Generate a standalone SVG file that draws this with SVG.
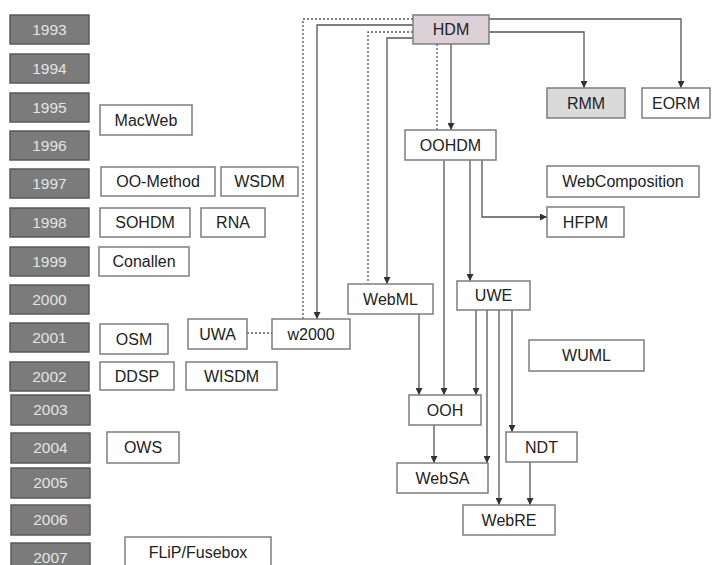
<svg xmlns="http://www.w3.org/2000/svg" width="712" height="565" viewBox="0 0 712 565">
<style>
.yr rect{fill:#7b7b7b;stroke:#5a5a5a;stroke-width:1.5}
.yr text{fill:#e4e4e4;font-family:"Liberation Sans",Arial,sans-serif;font-size:15.5px;text-anchor:middle}
.n rect{fill:#fff;stroke:#7d7d7d;stroke-width:1.5}
.n text{fill:#222;font-family:"Liberation Sans",Arial,sans-serif;font-size:16px;text-anchor:middle}
.c path{fill:none;stroke:#555;stroke-width:1.3}
.c .a{marker-end:url(#ah)}
.c .d{stroke-dasharray:2,2}
</style>
<defs>
<marker id="ah" viewBox="0 0 8 8" refX="8" refY="4" markerWidth="7" markerHeight="7" markerUnits="userSpaceOnUse" orient="auto"><path d="M0,0 L8,4 L0,8 z" fill="#333"/></marker>
</defs>
<rect width="712" height="565" fill="#fff"/>
<g id="years">
<g class="yr" id="y1993"><rect x="10" y="15" width="79" height="29"/><text x="49.5" y="35">1993</text></g>
<g class="yr" id="y1994"><rect x="10" y="54" width="79" height="29"/><text x="49.5" y="74">1994</text></g>
<g class="yr" id="y1995"><rect x="10" y="93" width="79" height="29"/><text x="49.5" y="113">1995</text></g>
<g class="yr" id="y1996"><rect x="10" y="131" width="79" height="29"/><text x="49.5" y="151">1996</text></g>
<g class="yr" id="y1997"><rect x="10" y="169" width="79" height="29"/><text x="49.5" y="189">1997</text></g>
<g class="yr" id="y1998"><rect x="10" y="208" width="79" height="29"/><text x="49.5" y="228">1998</text></g>
<g class="yr" id="y1999"><rect x="10" y="247" width="79" height="29"/><text x="49.5" y="267">1999</text></g>
<g class="yr" id="y2000"><rect x="10" y="285" width="79" height="29"/><text x="49.5" y="305">2000</text></g>
<g class="yr" id="y2001"><rect x="10" y="323" width="79" height="29"/><text x="49.5" y="343">2001</text></g>
<g class="yr" id="y2002"><rect x="10" y="362" width="79" height="29"/><text x="49.5" y="382">2002</text></g>
<g class="yr" id="y2003"><rect x="11" y="395" width="79" height="30"/><text x="50.5" y="415">2003</text></g>
<g class="yr" id="y2004"><rect x="11" y="433" width="79" height="30"/><text x="50.5" y="453">2004</text></g>
<g class="yr" id="y2005"><rect x="11" y="468" width="79" height="30"/><text x="50.5" y="488">2005</text></g>
<g class="yr" id="y2006"><rect x="11" y="505" width="79" height="30"/><text x="50.5" y="525">2006</text></g>
<g class="yr" id="y2007"><rect x="11" y="543" width="79" height="30"/><text x="50.5" y="563">2007</text></g>
</g>
<g id="connectors" class="c">
<path class="d" d="M413,19 H303 V319"/>
<path class="a" d="M413,25 H317 V319"/>
<path class="d" d="M413,32 H368 V284"/>
<path class="a" d="M413,38 H387 V284"/>
<path class="d" d="M437,44 V130"/>
<path class="a" d="M451,44 V130"/>
<path class="a" d="M489,19 H681 V88"/>
<path class="a" d="M489,32 H584 V88"/>
<path class="a" d="M444,160 V395"/>
<path class="a" d="M470,160 V281"/>
<path class="a" d="M482,160 V217 H547"/>
<path class="a" d="M419,314 V395"/>
<path class="a" d="M476,310 V395"/>
<path class="a" d="M487,310 V463"/>
<path class="a" d="M499,310 V505"/>
<path class="a" d="M512,310 V432"/>
<path class="a" d="M434,425 V463"/>
<path class="a" d="M530,462 V505"/>
<path class="d" d="M247,333 H272"/>
</g>
<g class="n" id="MacWeb"><rect x="100" y="105" width="92" height="30"/><text x="146" y="125.5">MacWeb</text></g>
<g class="n" id="OO-Method"><rect x="101" y="167" width="114" height="29"/><text x="158" y="187">OO-Method</text></g>
<g class="n" id="WSDM"><rect x="221" y="167" width="77" height="29"/><text x="259.5" y="187">WSDM</text></g>
<g class="n" id="SOHDM"><rect x="100" y="208" width="90" height="29"/><text x="145" y="228">SOHDM</text></g>
<g class="n" id="RNA"><rect x="201" y="208" width="64" height="29"/><text x="233" y="228">RNA</text></g>
<g class="n" id="Conallen"><rect x="99" y="247" width="90" height="29"/><text x="144" y="267">Conallen</text></g>
<g class="n" id="OSM"><rect x="100" y="324" width="68" height="30"/><text x="134" y="344.5">OSM</text></g>
<g class="n" id="UWA"><rect x="188" y="319" width="59" height="30"/><text x="217.5" y="339.5">UWA</text></g>
<g class="n" id="w2000"><rect x="272" y="319" width="78" height="30"/><text x="311" y="339.5">w2000</text></g>
<g class="n" id="DDSP"><rect x="100" y="362" width="74" height="28"/><text x="137" y="381.5">DDSP</text></g>
<g class="n" id="WISDM"><rect x="186" y="362" width="91" height="28"/><text x="231.5" y="381.5">WISDM</text></g>
<g class="n" id="OWS"><rect x="107" y="432" width="72" height="31"/><text x="143" y="453">OWS</text></g>
<g class="n" id="FLiP"><rect x="125" y="537" width="146" height="31"/><text x="198" y="558">FLiP/Fusebox</text></g>
<g class="n" id="HDM"><rect x="413" y="15" width="76" height="29" style="fill:#ddd0d6"/><text x="451" y="35">HDM</text></g>
<g class="n" id="RMM"><rect x="547" y="88" width="78" height="30" style="fill:#dadada"/><text x="586" y="108.5">RMM</text></g>
<g class="n" id="EORM"><rect x="642" y="88" width="68" height="30"/><text x="676" y="108.5">EORM</text></g>
<g class="n" id="OOHDM"><rect x="405" y="130" width="91" height="30"/><text x="450.5" y="150.5">OOHDM</text></g>
<g class="n" id="WebComposition"><rect x="547" y="166" width="152" height="31"/><text x="623" y="187">WebComposition</text></g>
<g class="n" id="HFPM"><rect x="547" y="207" width="77" height="30"/><text x="585.5" y="227.5">HFPM</text></g>
<g class="n" id="WebML"><rect x="348" y="284" width="85" height="30"/><text x="390.5" y="304.5">WebML</text></g>
<g class="n" id="UWE"><rect x="457" y="281" width="73" height="29"/><text x="493.5" y="301">UWE</text></g>
<g class="n" id="WUML"><rect x="529" y="340" width="115" height="31"/><text x="586.5" y="361">WUML</text></g>
<g class="n" id="OOH"><rect x="409" y="395" width="72" height="30"/><text x="445" y="415.5">OOH</text></g>
<g class="n" id="NDT"><rect x="506" y="432" width="71" height="30"/><text x="541.5" y="452.5">NDT</text></g>
<g class="n" id="WebSA"><rect x="397" y="463" width="91" height="30"/><text x="442.5" y="483.5">WebSA</text></g>
<g class="n" id="WebRE"><rect x="463" y="505" width="92" height="30"/><text x="509" y="525.5">WebRE</text></g>
</svg>
